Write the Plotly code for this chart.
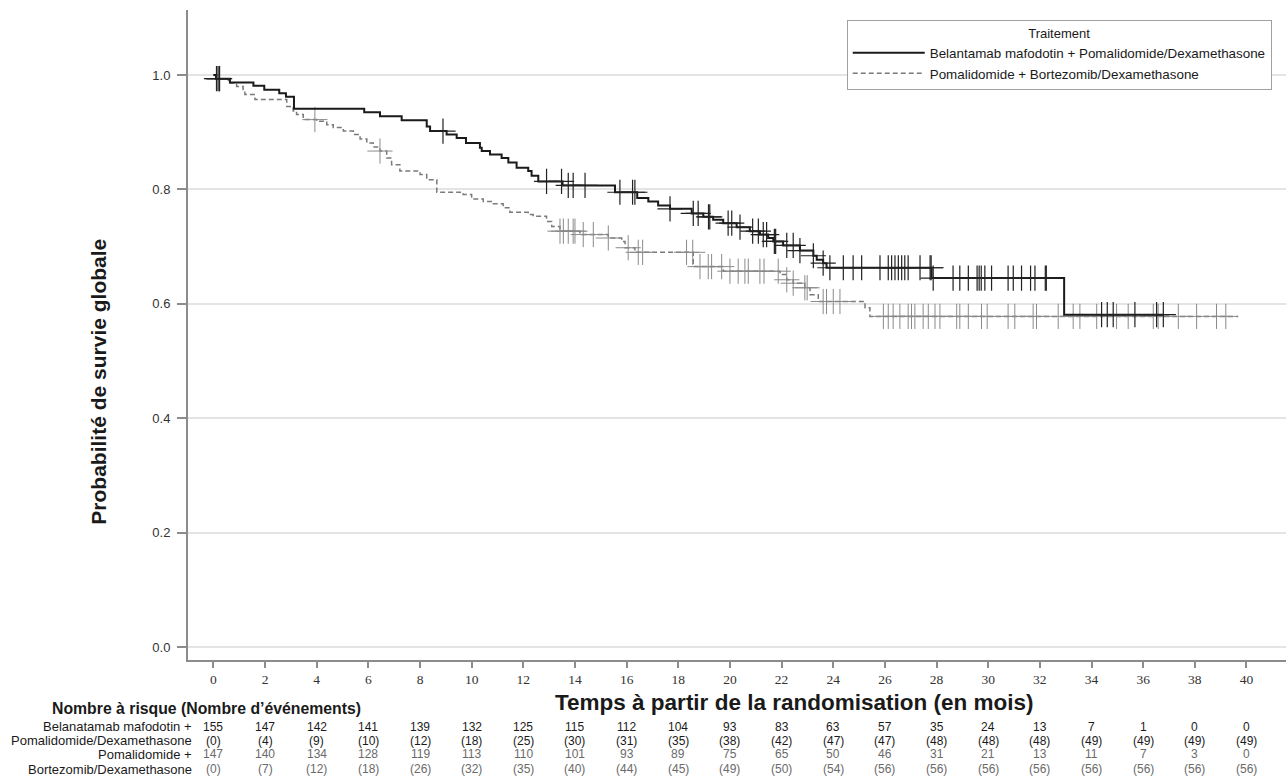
import numpy as np
import plotly.graph_objects as go

# ---------------- data ----------------
arm_names = ["Belantamab mafodotin + Pomalidomide/Dexamethasone",
             "Pomalidomide + Bortezomib/Dexamethasone"]

# Belantamab arm: step times (months) and KM survival after each step
bel_t = [0, 0.10, 0.64, 1.55, 1.97, 2.55, 2.81, 3.12, 5.84, 6.45,
         7.29, 8.26, 8.39, 9.03, 9.42, 9.78, 10.32, 10.39, 10.71, 11.16,
         11.42, 11.74, 12.19, 12.32, 12.58, 13.52, 15.55, 16.41, 16.84, 17.22,
         17.68, 18.52, 18.97, 19.35, 19.74, 20.26, 20.77, 21.16, 21.48, 21.68,
         22.06, 22.71, 23.23, 23.36, 23.61, 23.74, 27.81, 32.94]
bel_s = [1.0, 0.9935, 0.987, 0.981, 0.974, 0.968, 0.962, 0.941, 0.935, 0.928,
         0.921, 0.910, 0.902, 0.896, 0.890, 0.881, 0.873, 0.867, 0.861, 0.855,
         0.847, 0.838, 0.832, 0.824, 0.814, 0.807, 0.795, 0.785, 0.779, 0.772,
         0.766, 0.758, 0.752, 0.747, 0.741, 0.734, 0.727, 0.721, 0.715, 0.709,
         0.702, 0.693, 0.684, 0.677, 0.671, 0.663, 0.645, 0.581]
bel_last = 36.78
bel_cens = [0.12, 0.18, 0.24, 8.89, 12.9, 13.48, 13.74, 13.93, 14.39, 15.74,
            16.23, 16.32, 17.68, 18.58, 18.77, 19.17, 19.22, 19.93, 20.07, 20.39,
            20.88, 21.1, 21.29, 21.42, 21.72, 21.77, 22.2, 22.45, 22.71, 23.23,
            23.61, 23.87, 24.39, 24.77, 25.1, 25.81, 26.13, 26.26, 26.39, 26.52,
            26.65, 26.77, 26.9, 27.36, 27.75, 27.79, 27.87, 28.64, 28.9, 29.23,
            29.57, 29.65, 29.73, 29.87, 30.13, 30.77, 30.97, 31.29, 31.64, 31.81,
            32.21, 32.25, 34.39, 34.61, 34.84, 35.68, 36.52, 36.78]

# Pomalidomide + Bortezomib arm
pbd_t = [0, 0.2, 0.58, 0.90, 1.15, 1.22, 1.61, 2.84, 3.09, 3.22,
         3.48, 4.0, 4.39, 4.64, 5.03, 5.42, 5.68, 5.94, 6.19, 6.45,
         6.71, 6.9, 7.22, 8.0, 8.26, 8.65, 9.67, 10.0, 10.45, 10.84,
         11.22, 11.48, 12.19, 12.38, 12.9, 13.1, 13.42, 14.19, 15.29, 15.81,
         15.94, 16.32, 18.58, 19.74, 21.94, 22.2, 22.45, 22.9, 23.1, 23.42,
         25.23, 25.42]
pbd_s = [1.0, 0.993, 0.986, 0.980, 0.973, 0.966, 0.957, 0.945, 0.937, 0.931,
         0.922, 0.919, 0.913, 0.908, 0.902, 0.896, 0.888, 0.881, 0.874, 0.867,
         0.855, 0.843, 0.832, 0.826, 0.817, 0.795, 0.791, 0.783, 0.779, 0.775,
         0.768, 0.760, 0.756, 0.753, 0.744, 0.735, 0.727, 0.721, 0.715, 0.709,
         0.698, 0.690, 0.665, 0.657, 0.651, 0.642, 0.636, 0.628, 0.616, 0.604,
         0.593, 0.578]
pbd_last = 39.67
pbd_cens = [0.22, 3.93, 6.45, 13.42, 13.55, 13.74, 13.93, 14.0, 14.32, 14.71,
            15.29, 16.06, 16.45, 16.62, 18.32, 18.56, 18.84, 19.16, 19.29, 19.68,
            20.0, 20.32, 20.58, 20.71, 21.16, 21.32, 21.87, 22.2, 22.45, 22.9,
            22.99, 23.61, 23.74, 24.0, 24.26, 25.94, 26.13, 26.32, 26.58, 26.9,
            27.03, 27.16, 27.48, 27.68, 27.94, 28.13, 28.78, 28.9, 29.23, 29.74,
            29.96, 30.77, 31.03, 31.74, 31.87, 32.71, 33.29, 33.55, 34.2, 34.97,
            35.42, 36.39, 36.58, 37.36, 38.07, 38.84, 39.2]

# Risk table
risk_times = [0, 2, 4, 6, 8, 10, 12, 14, 16, 18, 20, 22, 24, 26, 28, 30, 32, 34, 36, 38, 40]
bel_risk = [155, 147, 142, 141, 139, 132, 125, 115, 112, 104, 93, 83, 63, 57, 35, 24, 13, 7, 1, 0, 0]
bel_events = [0, 4, 9, 10, 12, 18, 25, 30, 31, 35, 38, 42, 47, 47, 48, 48, 48, 49, 49, 49, 49]
pbd_risk = [147, 140, 134, 128, 119, 113, 110, 101, 93, 89, 75, 65, 50, 46, 31, 21, 13, 11, 7, 3, 0]
pbd_events = [0, 7, 12, 18, 26, 32, 35, 40, 44, 45, 49, 50, 54, 56, 56, 56, 56, 56, 56, 56, 56]
row_labels = ["Belanatamab mafodotin +", "Pomalidomide/Dexamethasone",
              "Pomalidomide +", "Bortezomib/Dexamethasone"]

y_ticks = [0.0, 0.2, 0.4, 0.6, 0.8, 1.0]
x_ticks = list(range(0, 41, 2))

# ---------------- styling ----------------
SANS = "Liberation Sans, Arial, sans-serif"
SERIF = "Liberation Serif, Times New Roman, serif"
BLACK = "#1a1a1a"
GREY = "#7a7a7a"
GREY_TXT = "#6a6a6a"


def level_at(times, surv, t):
    idx = np.searchsorted(np.array(times), np.array(t), side="right") - 1
    return np.array(surv)[idx]


fig = go.Figure()

# grey arm (drawn first, below)
fig.add_trace(go.Scatter(
    x=pbd_t + [pbd_last], y=pbd_s + [pbd_s[-1]], mode="lines", line_shape="hv",
    line=dict(color=GREY, width=1.5, dash="5px,3px"), name=arm_names[1],
    legendrank=2, hoverinfo="skip"))
fig.add_trace(go.Scatter(
    x=pbd_cens, y=level_at(pbd_t, pbd_s, pbd_cens), mode="markers",
    marker=dict(symbol="cross-thin", size=18, line=dict(color="#8a8a8a", width=1)),
    showlegend=False, hoverinfo="skip"))

# black arm
fig.add_trace(go.Scatter(
    x=bel_t + [bel_last], y=bel_s + [bel_s[-1]], mode="lines", line_shape="hv",
    line=dict(color=BLACK, width=2), name=arm_names[0],
    legendrank=1, hoverinfo="skip"))
fig.add_trace(go.Scatter(
    x=bel_cens, y=level_at(bel_t, bel_s, bel_cens), mode="markers",
    marker=dict(symbol="cross-thin", size=18, line=dict(color="#222222", width=1.2)),
    showlegend=False, hoverinfo="skip"))

# ---------------- annotations ----------------
ann = []
row_y = [-0.1026, -0.1242, -0.1451, -0.1677]
rows = [(bel_risk, "{}", BLACK), (bel_events, "({})", BLACK),
        (pbd_risk, "{}", GREY_TXT), (pbd_events, "({})", GREY_TXT)]
for (vals, fmt, col), ry in zip(rows, row_y):
    for t, v in zip(risk_times, vals):
        ann.append(dict(x=t, y=ry, xref="x", yref="paper", text=fmt.format(v),
                        showarrow=False, xanchor="center", yanchor="middle",
                        font=dict(family=SANS, size=12, color=col)))
for lab, ry in zip(row_labels, row_y):
    ann.append(dict(x=0.0055, y=ry, xref="paper", yref="paper", text=lab,
                    showarrow=False, xanchor="right", yanchor="middle",
                    font=dict(family=SANS, size=13, color=BLACK)))
ann.append(dict(x=-0.1257, y=-0.074, xref="paper", yref="paper",
                text="<b>Nombre à risque (Nombre d’événements)</b>", showarrow=False,
                xanchor="left", yanchor="middle",
                font=dict(family=SANS, size=15.8, color=BLACK)))
ann.append(dict(x=22.48, y=-0.066, xref="x", yref="paper",
                text="<b>Temps à partir de la randomisation (en mois)</b>", showarrow=False,
                xanchor="center", yanchor="middle",
                font=dict(family=SANS, size=22.5, color=BLACK)))
ann.append(dict(x=-0.081, y=0.464, xref="paper", yref="y", textangle=-90,
                text="<b>Probabilité de survie globale</b>", showarrow=False,
                xanchor="center", yanchor="middle",
                font=dict(family=SANS, size=21, color=BLACK)))

fig.update_layout(
    width=1288, height=780,
    margin=dict(l=188, r=2, t=10, b=120),
    paper_bgcolor="white", plot_bgcolor="white",
    annotations=ann,
    legend=dict(x=0.987, y=0.985, xanchor="right", yanchor="top",
                bgcolor="white", bordercolor="#a0a0a0", borderwidth=1,
                font=dict(family=SANS, size=13.4, color=BLACK),
                title=dict(text="Traitement", side="top center",
                           font=dict(family=SANS, size=13, color=BLACK)),
                itemwidth=72, tracegroupgap=0),
)
fig.update_xaxes(range=[-0.983, 41.53], tickvals=x_ticks, ticktext=[str(v) for v in x_ticks],
                 showgrid=False, zeroline=False, showline=True, linecolor="#8c8c8c", linewidth=2,
                 ticks="outside", ticklen=6, tickcolor="#8c8c8c", tickwidth=1.5,
                 tickfont=dict(family=SERIF, size=13.5, color="#333333"))
fig.update_yaxes(range=[-0.0227, 1.1136], tickvals=y_ticks, ticktext=[f"{v:.1f}" for v in y_ticks],
                 showgrid=True, gridcolor="#e4e4e4", gridwidth=1.5, zeroline=False,
                 showline=True, linecolor="#8c8c8c", linewidth=2,
                 ticks="outside", ticklen=9, tickcolor="#8c8c8c", tickwidth=1.5,
                 ticklabelstandoff=4,
                 tickfont=dict(family=SANS, size=13, color="#333333"))

fig.write_html("out.html")
